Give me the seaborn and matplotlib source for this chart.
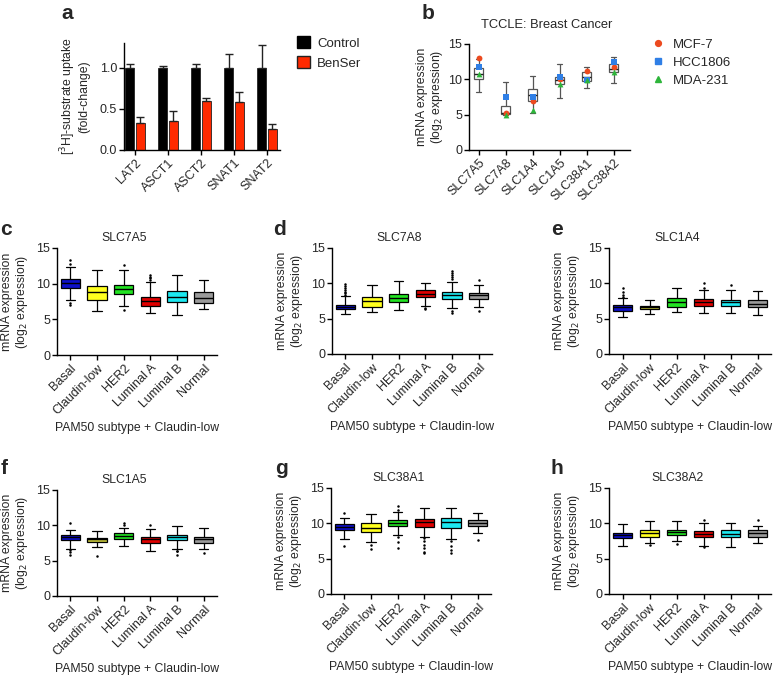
import numpy as np
import pandas as pd
import matplotlib
matplotlib.use("Agg")
import matplotlib.pyplot as plt
import seaborn as sns
from matplotlib.lines import Line2D
from matplotlib.patches import Patch

sns.set_theme(style="ticks")
plt.rcParams["font.family"] = ["Liberation Sans", "DejaVu Sans"]
plt.rcParams["axes.linewidth"] = 1.0

# ---------------- Panel a data ----------------
transporters = ["LAT2", "ASCT1", "ASCT2", "SNAT1", "SNAT2"]
control_mean = [1.0, 1.0, 1.0, 1.0, 1.0]
control_err = [0.05, 0.02, 0.04, 0.17, 0.28]
benser_mean = [0.33, 0.35, 0.60, 0.58, 0.25]
benser_err = [0.07, 0.12, 0.03, 0.13, 0.06]

# ---------------- Panel b data ----------------
tccle_genes = ["SLC7A5", "SLC7A8", "SLC1A4", "SLC1A5", "SLC38A1", "SLC38A2"]
# [whisker low, Q1, median, Q3, whisker high]
tccle_stats = [
    [8.2, 10.1, 10.8, 11.6, 12.9],
    [4.9, 5.1, 5.3, 6.2, 9.6],
    [5.2, 7.0, 7.8, 8.6, 10.5],
    [7.3, 9.3, 9.9, 10.3, 12.1],
    [8.8, 9.8, 10.4, 11.0, 11.8],
    [9.5, 11.0, 11.5, 12.1, 13.1],
]
mcf7 = [13.0, 5.3, 7.0, 10.1, 11.2, 11.8]
hcc1806 = [11.8, 7.5, 7.5, 10.4, 9.9, 12.4]
mda231 = [10.8, 5.0, 5.6, 9.3, 9.9, 11.0]

# ---------------- Panels c-h data ----------------
subtypes = ["Basal", "Claudin-low", "HER2", "Luminal A", "Luminal B", "Normal"]
panel_genes = ["SLC7A5", "SLC7A8", "SLC1A4", "SLC1A5", "SLC38A1", "SLC38A2"]
panel_letters = ["c", "d", "e", "f", "g", "h"]

slc7a5_stats = [[7.7, 9.4, 10.1, 10.7, 12.4], [6.1, 7.7, 8.9, 9.7, 11.9],
                [6.8, 8.5, 9.2, 9.8, 11.9], [5.9, 6.9, 7.6, 8.1, 10.3],
                [5.6, 7.4, 8.2, 9.0, 11.2], [6.4, 7.3, 8.0, 8.9, 10.5]]
slc7a5_fliers = [[12.8, 13.3, 7.3, 7.0], [], [12.6, 6.3],
                 [10.5, 10.8, 11.0, 11.2], [], []]

slc7a8_stats = [[5.6, 6.3, 6.6, 7.0, 8.2], [6.0, 6.65, 7.45, 8.0, 9.7],
                [6.2, 7.3, 7.9, 8.5, 10.4], [6.85, 8.1, 8.5, 9.0, 10.1],
                [6.5, 7.8, 8.4, 8.8, 10.2], [6.7, 7.8, 8.3, 8.7, 9.8]]
slc7a8_fliers = [[8.4, 8.6, 8.8, 9.0, 9.3, 9.6, 9.95], [], [],
                 [6.5, 6.3], [10.6, 10.9, 11.2, 11.5, 11.7, 6.1, 5.8], [10.5, 6.1]]

slc1a4_stats = [[5.3, 6.1, 6.6, 6.9, 7.9], [5.7, 6.3, 6.6, 6.8, 7.7],
                [5.9, 6.7, 7.3, 7.9, 9.3], [5.8, 6.8, 7.3, 7.8, 9.1],
                [5.8, 6.8, 7.3, 7.7, 9.1], [5.5, 6.6, 7.1, 7.6, 8.9]]
slc1a4_fliers = [[8.1, 8.4, 8.8, 9.3], [], [], [9.3, 10.0], [9.75], []]

slc1a5_stats = [[6.7, 7.9, 8.3, 8.6, 9.4], [6.9, 7.7, 8.0, 8.2, 9.2],
                [7.05, 8.1, 8.5, 8.85, 9.6], [6.3, 7.5, 8.0, 8.4, 9.5],
                [6.6, 7.9, 8.4, 8.7, 9.9], [6.6, 7.5, 8.0, 8.4, 9.6]]
slc1a5_fliers = [[10.4, 6.5, 6.2, 5.8], [5.6], [10.3, 10.0], [10.1],
                 [6.4, 6.3, 5.8], [6.1]]

slc38a1_stats = [[7.8, 9.1, 9.5, 9.9, 10.7], [7.3, 8.8, 9.4, 10.0, 11.3],
                 [8.4, 9.6, 10.1, 10.45, 11.6], [8.1, 9.5, 10.2, 10.6, 12.2],
                 [7.8, 9.4, 10.2, 10.7, 12.2], [8.6, 9.6, 10.1, 10.45, 11.4]]
slc38a1_fliers = [[11.5, 6.8], [6.9, 6.3], [12.5, 11.9, 8.1, 7.4, 6.5],
                  [7.9, 7.5, 7.0, 6.5, 6.0, 5.8], [7.5, 6.8, 6.2, 5.8], [7.6]]

slc38a2_stats = [[6.8, 7.9, 8.3, 8.7, 9.9], [7.2, 8.1, 8.6, 9.05, 10.3],
                 [7.5, 8.3, 8.8, 9.1, 10.3], [6.8, 8.0, 8.5, 8.9, 10.1],
                 [6.7, 8.0, 8.5, 9.0, 10.0], [7.2, 8.1, 8.6, 9.0, 9.6]]
slc38a2_fliers = [[], [6.9], [7.1], [10.45, 6.6], [], [10.45]]

panel_stats = [slc7a5_stats, slc7a8_stats, slc1a4_stats,
               slc1a5_stats, slc38a1_stats, slc38a2_stats]
panel_fliers = [slc7a5_fliers, slc7a8_fliers, slc1a4_fliers,
                slc1a5_fliers, slc38a1_fliers, slc38a2_fliers]

subtype_colors = {"Basal": "#0d10c8", "Claudin-low": "#ffff1e", "HER2": "#22e322",
                  "Luminal A": "#e00000", "Luminal B": "#1ce8f0", "Normal": "#9a9a9a"}
claudin_olive = "#c4c43a"

# ---------------- layout helpers ----------------
W, H = 776, 676
fig = plt.figure(figsize=(W / 100, H / 100), dpi=100)


def rect(l, t, r, b):
    return [l / W, 1 - b / H, (r - l) / W, (b - t) / H]


def ftext(x, y, s, **kw):
    fig.text(x / W, 1 - y / H, s, **kw)


TICK_FS = 9.0
LAB_FS = 8.8


def style_axis(ax):
    sns.despine(ax=ax)
    ax.tick_params(axis="both", length=3.5, width=1.0, labelsize=TICK_FS,
                   color="black", pad=1.5)
    for sp in ax.spines.values():
        sp.set_color("black")


# ---------------- Panel a ----------------
ax = fig.add_axes(rect(124, 43, 280, 150))
dfa = pd.DataFrame({
    "transporter": transporters * 2,
    "value": control_mean + benser_mean,
    "err": control_err + benser_err,
    "group": ["Control"] * 5 + ["BenSer"] * 5,
})
sns.barplot(data=dfa, x="transporter", y="value", hue="group",
            palette={"Control": "black", "BenSer": "#ff2a00"},
            width=0.64, gap=0.15, saturation=1, errorbar=None,
            edgecolor="#222222", linewidth=0.6, legend=False, ax=ax)
bars = [p for p in ax.patches]
for p, e in zip(bars, dfa["err"]):
    cx = p.get_x() + p.get_width() / 2
    top = p.get_height()
    ax.errorbar(cx, top, yerr=[[0], [e]], fmt="none", ecolor="#222222",
                elinewidth=1.0, capsize=2.6, capthick=1.0)
ax.set_ylim(0, 1.3)
ax.set_xlim(-0.33, 4.40)
ax.set_yticks([0, 0.5, 1.0])
ax.set_yticklabels(["0.0", "0.5", "1.0"])
ax.set_xlabel("")
ax.set_ylabel("[$^3$H]-substrate uptake\n(fold-change)", fontsize=LAB_FS,
              linespacing=1.05)
ax.yaxis.set_label_coords(-34 / 156, 0.5)
style_axis(ax)
plt.setp(ax.get_xticklabels(), rotation=45, ha="right", rotation_mode="anchor")
handles = [Patch(facecolor="black", edgecolor="black", label="Control"),
           Patch(facecolor="#ff2a00", edgecolor="#222222", label="BenSer")]
fig.legend(handles=handles, loc="upper left",
           bbox_to_anchor=(292 / W, 1 - 31 / H), frameon=False,
           fontsize=9.5, handlelength=1.0, handleheight=1.0,
           handletextpad=0.5, labelspacing=0.5, borderaxespad=0)
ftext(61, 19, "a", fontsize=15, fontweight="bold")

# ---------------- Panel b ----------------
ax = fig.add_axes(rect(469, 44, 630, 150))
rows = []
for g, st in zip(tccle_genes, tccle_stats):
    for v in st:
        rows.append((g, v))
dfb = pd.DataFrame(rows, columns=["gene", "value"])
sns.boxplot(data=dfb, x="gene", y="value", order=tccle_genes, whis=(0, 100),
            width=0.34, color="white", saturation=1, linecolor="#555555",
            linewidth=0.9, fliersize=0, ax=ax,
            medianprops={"color": "#222222", "linewidth": 1.0})
for vals, col, mk, ms in [(mcf7, "#ec4a1f", "o", 4.2),
                          (hcc1806, "#2f7fe6", "s", 4.2),
                          (mda231, "#2db53a", "^", 4.2)]:
    dfp = pd.DataFrame({"gene": tccle_genes, "value": vals})
    sns.stripplot(data=dfp, x="gene", y="value", order=tccle_genes,
                  jitter=False, marker=mk, color=col, size=ms, linewidth=0,
                  ax=ax, zorder=5)
ax.set_ylim(0, 15)
ax.set_xlim(-0.36, 5.6)
ax.set_yticks([0, 5, 10, 15])
ax.set_xlabel("")
ax.set_ylabel("mRNA expression\n(log$_2$ expression)", fontsize=LAB_FS,
              linespacing=1.05)
ax.yaxis.set_label_coords(-24 / 161, 0.5)
style_axis(ax)
plt.setp(ax.get_xticklabels(), rotation=45, ha="right", rotation_mode="anchor")
ax.text(0.48, 1.0 + 13 / 106, "TCCLE: Breast Cancer", transform=ax.transAxes,
        ha="center", va="bottom", fontsize=9.3)
leg_handles = [Line2D([], [], marker="o", color="#ec4a1f", ls="none", ms=4.2, label="MCF-7"),
               Line2D([], [], marker="s", color="#2f7fe6", ls="none", ms=4.2, label="HCC1806"),
               Line2D([], [], marker="^", color="#2db53a", ls="none", ms=4.2, label="MDA-231")]
fig.legend(handles=leg_handles, loc="upper left",
           bbox_to_anchor=(646 / W, 1 - 33 / H), frameon=False, fontsize=9.5,
           handlelength=1.0, handletextpad=0.6, labelspacing=0.45,
           borderaxespad=0)
ftext(422, 19, "b", fontsize=15, fontweight="bold")

# ---------------- Panels c-h ----------------
panel_rects = [(57, 248, 217, 355), (332, 248, 492, 354), (609, 248, 771, 354),
               (57, 490, 217, 596), (331, 488, 491, 594), (609, 488, 771, 594)]
letter_pos = [(0, 235), (273, 235), (551, 235), (1, 474), (275, 474), (550, 474)]

for i in range(6):
    l, t, r, b = panel_rects[i]
    ax = fig.add_axes(rect(l, t, r, b))
    rows = []
    for s, st in zip(subtypes, panel_stats[i]):
        for v in st:
            rows.append((s, v))
    dfc = pd.DataFrame(rows, columns=["subtype", "value"])
    pal = dict(subtype_colors)
    if panel_genes[i] in ("SLC1A4", "SLC1A5"):
        pal["Claudin-low"] = claudin_olive
    sns.boxplot(data=dfc, x="subtype", y="value", hue="subtype", order=subtypes,
                hue_order=subtypes, palette=pal, whis=(0, 100), width=0.72,
                saturation=1, linecolor="black", linewidth=0.9, fliersize=0,
                legend=False, ax=ax, dodge=False,
                medianprops={"color": "black", "linewidth": 1.0})
    frows = []
    for s, fl in zip(subtypes, panel_fliers[i]):
        for v in fl:
            frows.append((s, v))
    dff = pd.DataFrame(frows, columns=["subtype", "value"])
    sns.stripplot(data=dff, x="subtype", y="value", order=subtypes,
                  jitter=False, color="black", size=1.8, marker="o",
                  linewidth=0, ax=ax, zorder=5)
    ax.set_ylim(0, 15)
    ax.set_xlim(-0.5, 5.5)
    ax.set_yticks([0, 5, 10, 15])
    ax.set_xlabel("")
    ax.set_ylabel("mRNA expression\n(log$_2$ expression)", fontsize=LAB_FS,
                  linespacing=1.05)
    ax.yaxis.set_label_coords(-27 / (r - l), 0.5)
    style_axis(ax)
    plt.setp(ax.get_xticklabels(), rotation=45, ha="right",
             rotation_mode="anchor")
    ax.text(0.42, 1.0 + 4 / (b - t), panel_genes[i], transform=ax.transAxes,
            ha="center", va="bottom", fontsize=LAB_FS)
    ax.text(0.5, -73 / (b - t), "PAM50 subtype + Claudin-low",
            transform=ax.transAxes, ha="center", va="center", fontsize=LAB_FS)
    lx, ly = letter_pos[i]
    ftext(lx, ly, panel_letters[i], fontsize=15, fontweight="bold")

fig.savefig("out.png", dpi=100, facecolor="white")
